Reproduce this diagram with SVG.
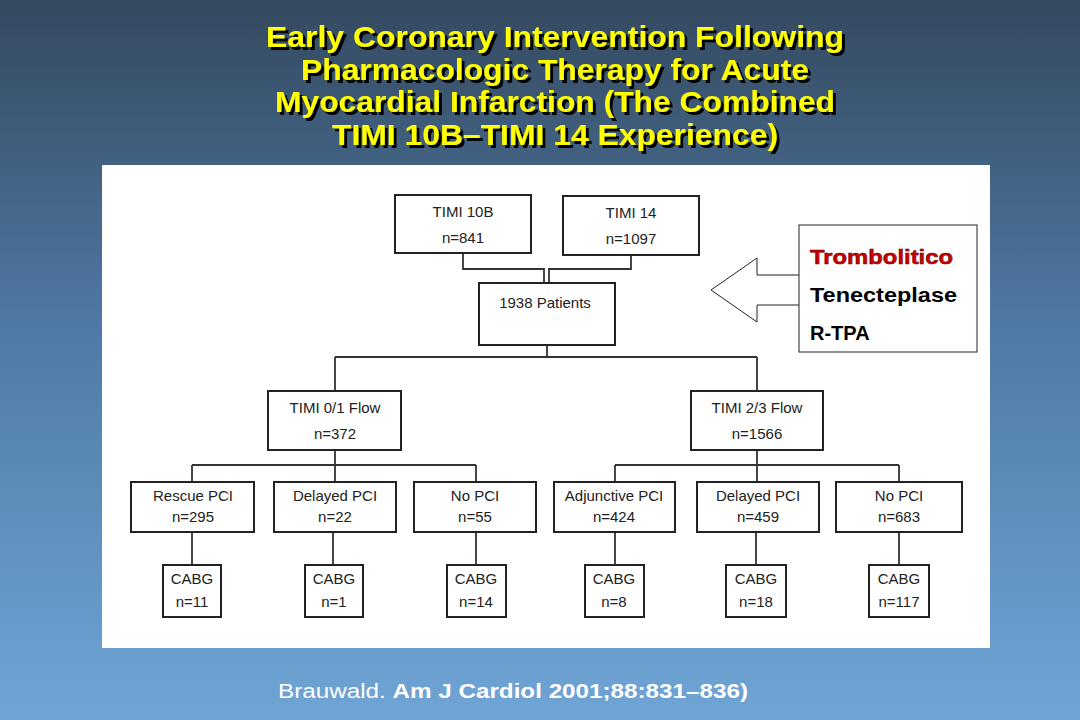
<svg xmlns="http://www.w3.org/2000/svg" width="1080" height="720" viewBox="0 0 1080 720">
<defs>
<linearGradient id="bg" x1="0" y1="0" x2="0" y2="1">
<stop offset="0" stop-color="#34495f"/><stop offset="0.45" stop-color="#4f79a4"/><stop offset="1" stop-color="#6fa5d6"/>
</linearGradient>
<filter id="sh" x="-5%" y="-20%" width="110%" height="140%">
<feDropShadow dx="3" dy="3" stdDeviation="0" flood-color="#000"/>
</filter>
<style>
.b{fill:#fff;stroke:#222;stroke-width:2}
.t{font-family:"Liberation Sans",Arial,sans-serif;font-size:15px;fill:#222;text-anchor:middle}
.c{fill:none;stroke:#333;stroke-width:1.8}
.ti{font-family:"Liberation Sans",Arial,sans-serif;font-size:30px;font-weight:bold;text-anchor:middle;fill:#ffff00}
.cl{font-family:"Liberation Sans",Arial,sans-serif;font-size:20px;font-weight:bold}
</style>
</defs>
<rect width="1080" height="720" fill="url(#bg)"/>
<g id="title" class="ti" filter="url(#sh)">
<text x="555" y="47" textLength="578" lengthAdjust="spacingAndGlyphs">Early Coronary Intervention Following</text>
<text x="555" y="80" textLength="508" lengthAdjust="spacingAndGlyphs">Pharmacologic Therapy for Acute</text>
<text x="555" y="112" textLength="560" lengthAdjust="spacingAndGlyphs">Myocardial Infarction (The Combined</text>
<text x="555" y="145" textLength="446" lengthAdjust="spacingAndGlyphs">TIMI 10B–TIMI 14 Experience)</text>
</g>
<rect x="102" y="165" width="888" height="483" fill="#fff"/>
<g id="connectors" class="c">
<path d="M463 253V269H544V283M631 255V269H549V283"/>
<path d="M547 345V357M335 357H757M335 357V391M757 357V391"/>
<path d="M335 450V465M192 465H476M192 465V482M335 465V482M476 465V482"/>
<path d="M757 450V465M615 465H899M615 465V482M757 465V482M899 465V482"/>
<path d="M192 532V565M333 532V565M476 532V565M615 532V565M756 532V565M899 532V565"/>
</g>
<g id="timi10b"><rect class="b" x="395" y="195" width="136" height="58"/><text class="t" x="463" y="217">TIMI 10B</text><text class="t" x="463" y="243">n=841</text></g>
<g id="timi14"><rect class="b" x="563" y="196" width="136" height="59"/><text class="t" x="631" y="218">TIMI 14</text><text class="t" x="631" y="244">n=1097</text></g>
<g id="patients"><rect class="b" x="479" y="283" width="136" height="62"/><text class="t" x="545" y="308">1938 Patients</text></g>
<g id="timi01"><rect class="b" x="268" y="391" width="133" height="59"/><text class="t" x="335" y="413">TIMI 0/1 Flow</text><text class="t" x="335" y="439">n=372</text></g>
<g id="timi23"><rect class="b" x="691" y="391" width="132" height="59"/><text class="t" x="757" y="413">TIMI 2/3 Flow</text><text class="t" x="757" y="439">n=1566</text></g>
<g id="rescue"><rect class="b" x="131" y="482" width="123" height="50"/><text class="t" x="193" y="501">Rescue PCI</text><text class="t" x="193" y="522">n=295</text></g>
<g id="delayed1"><rect class="b" x="274" y="482" width="122" height="50"/><text class="t" x="335" y="501">Delayed PCI</text><text class="t" x="335" y="522">n=22</text></g>
<g id="nopci1"><rect class="b" x="414" y="482" width="122" height="50"/><text class="t" x="475" y="501">No PCI</text><text class="t" x="475" y="522">n=55</text></g>
<g id="adjunctive"><rect class="b" x="554" y="482" width="121" height="50"/><text class="t" x="614" y="501">Adjunctive PCI</text><text class="t" x="614" y="522">n=424</text></g>
<g id="delayed2"><rect class="b" x="697" y="482" width="122" height="50"/><text class="t" x="758" y="501">Delayed PCI</text><text class="t" x="758" y="522">n=459</text></g>
<g id="nopci2"><rect class="b" x="836" y="482" width="126" height="50"/><text class="t" x="899" y="501">No PCI</text><text class="t" x="899" y="522">n=683</text></g>
<g id="cabg1"><rect class="b" x="163" y="565" width="58" height="52"/><text class="t" x="192" y="584">CABG</text><text class="t" x="192" y="607">n=11</text></g>
<g id="cabg2"><rect class="b" x="305" y="565" width="58" height="52"/><text class="t" x="334" y="584">CABG</text><text class="t" x="334" y="607">n=1</text></g>
<g id="cabg3"><rect class="b" x="447" y="565" width="59" height="52"/><text class="t" x="476" y="584">CABG</text><text class="t" x="476" y="607">n=14</text></g>
<g id="cabg4"><rect class="b" x="585" y="565" width="59" height="52"/><text class="t" x="614" y="584">CABG</text><text class="t" x="614" y="607">n=8</text></g>
<g id="cabg5"><rect class="b" x="726" y="565" width="60" height="52"/><text class="t" x="756" y="584">CABG</text><text class="t" x="756" y="607">n=18</text></g>
<g id="cabg6"><rect class="b" x="869" y="565" width="60" height="52"/><text class="t" x="899" y="584">CABG</text><text class="t" x="899" y="607">n=117</text></g>
<g id="callout">
<path d="M799 275H757V258L711 290L757 322V305H799" fill="#fff" stroke="#222" stroke-width="1"/>
<rect x="799" y="225" width="178" height="127" fill="#fff" stroke="#222" stroke-width="1"/>
<text class="cl" x="810" y="264" fill="#cc0000" stroke="#600" stroke-width="0.5" textLength="143" lengthAdjust="spacingAndGlyphs">Trombolitico</text>
<text class="cl" x="810" y="302" fill="#000" textLength="147" lengthAdjust="spacingAndGlyphs">Tenecteplase</text>
<text class="cl" x="810" y="340" fill="#000">R-TPA</text>
</g>
<text x="278" y="698" font-family="'Liberation Sans',Arial,sans-serif" font-size="20" fill="#fff" textLength="470" lengthAdjust="spacingAndGlyphs">Brauwald. <tspan font-weight="bold">Am J Cardiol 2001;88:831–836)</tspan></text>
</svg>
